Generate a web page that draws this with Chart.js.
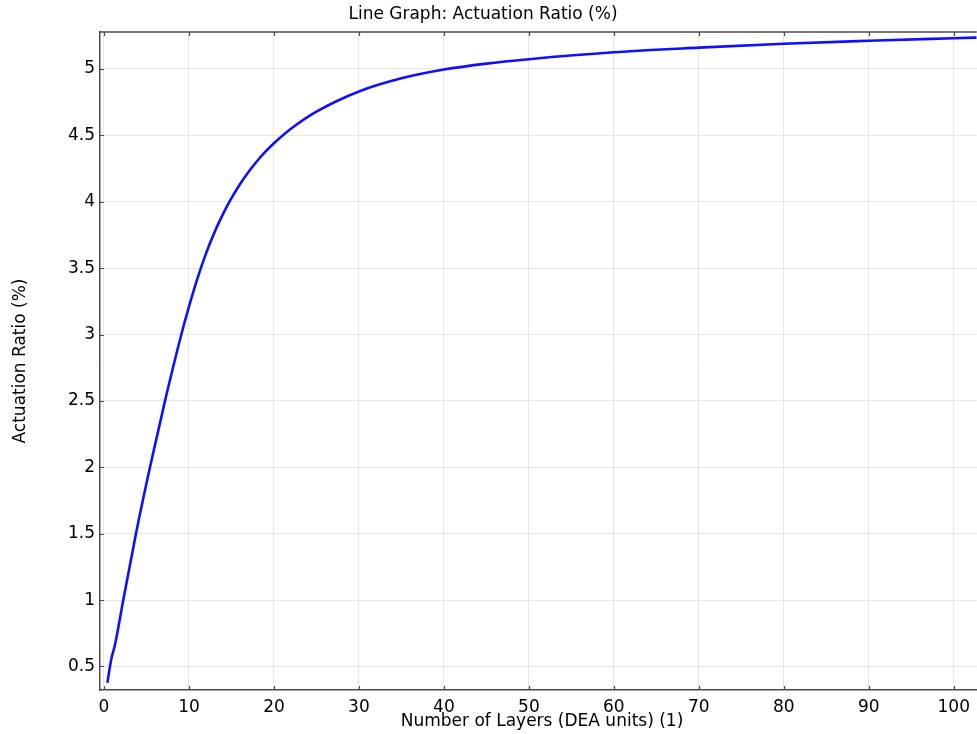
<!DOCTYPE html>
<html>
<head>
<meta charset="utf-8">
<script src="https://cdn.jsdelivr.net/npm/chart.js@4.4.1/dist/chart.umd.min.js"></script>
<style>
  html, body { margin: 0; padding: 0; background: #ffffff; }
  #wrap { width: 977px; height: 734px; }
</style>
</head>
<body>
<div id="wrap"><canvas id="c" width="977" height="734"></canvas></div>
<script>
// Number of DEA layers and the resulting actuation ratio (%)
const layers = [0.4, 0.85, 1.3, 2.27, 3.76, 5.41, 7.18, 9.1, 10, 11, 12, 13, 14, 15, 16, 17, 18, 19, 20, 22, 25, 30, 35, 40, 45, 50, 60, 70, 80, 90, 100, 102.7];
const actuationRatio = [0.377, 0.553, 0.666, 1.0, 1.5, 2.0, 2.5, 3.0, 3.21, 3.423, 3.609, 3.769, 3.907, 4.027, 4.132, 4.224, 4.305, 4.377, 4.44, 4.549, 4.678, 4.83, 4.929, 4.995, 5.04, 5.073, 5.125, 5.16, 5.19, 5.212, 5.231, 5.236];

// Axis ticks
const xTickValues = [0, 10, 20, 30, 40, 50, 60, 70, 80, 90, 100];
const yTickValues = [0.5, 1, 1.5, 2, 2.5, 3, 3.5, 4, 4.5, 5];

const titleText = 'Line Graph: Actuation Ratio (%)';
const xTitle = 'Number of Layers (DEA units) (1)';
const yTitle = 'Actuation Ratio (%)';

const FONT = "'DejaVu Sans', sans-serif";
const FONT_SIZE = 17;
const AXIS_COLOR = '#4a4a4a';
const GRID_COLOR = '#e6e6e6';

const points = layers.map((x, i) => ({ x: x, y: actuationRatio[i] }));

// Plot title, x-axis title, the framing top edge and inward tick marks
const framePlugin = {
  id: 'frame',
  afterDraw(chart) {
    const ctx = chart.ctx;
    const a = chart.chartArea;
    const xs = chart.scales.x, ys = chart.scales.y;
    ctx.save();
    ctx.fillStyle = '#000';
    ctx.font = FONT_SIZE + 'px ' + FONT;
    ctx.textAlign = 'center';
    ctx.textBaseline = 'middle';
    ctx.fillText(titleText, 483, 15);
    ctx.fillText(xTitle, 542, 722);

    ctx.strokeStyle = AXIS_COLOR;
    ctx.lineWidth = 1.5;
    ctx.beginPath();
    ctx.moveTo(a.left, a.top);
    ctx.lineTo(a.right, a.top);
    ctx.stroke();

    ctx.lineWidth = 1.2;
    ctx.beginPath();
    xTickValues.forEach(v => {
      const px = Math.round(xs.getPixelForValue(v)) + 0.5;
      ctx.moveTo(px, a.bottom);
      ctx.lineTo(px, a.bottom - 4);
      ctx.moveTo(px, a.top);
      ctx.lineTo(px, a.top + 4);
    });
    yTickValues.forEach(v => {
      const py = Math.round(ys.getPixelForValue(v)) + 0.5;
      ctx.moveTo(a.left - 1, py);
      ctx.lineTo(a.left + 4, py);
    });
    ctx.stroke();
    ctx.restore();
  }
};

new Chart(document.getElementById('c'), {
  type: 'line',
  data: {
    datasets: [{
      data: points,
      borderColor: '#0f0fff',
      borderWidth: 2.6,
      pointRadius: 0,
      fill: false,
      cubicInterpolationMode: 'monotone'
    }]
  },
  options: {
    responsive: false,
    animation: false,
    devicePixelRatio: 1,
    layout: { padding: { top: 32, right: 0, bottom: 0, left: 0 } },
    plugins: {
      legend: { display: false },
      title: { display: false },
      tooltip: { enabled: false }
    },
    scales: {
      x: {
        type: 'linear',
        min: -0.47,
        max: 102.7,
        afterBuildTicks: s => { s.ticks = xTickValues.map(v => ({ value: v })); },
        afterFit: s => { s.height = 44; },
        ticks: {
          color: '#000',
          font: { family: FONT, size: FONT_SIZE },
          padding: 7,
          maxRotation: 0,
          autoSkip: false,
          callback: v => String(v)
        },
        grid: { color: GRID_COLOR, lineWidth: 1, drawTicks: false },
        border: { display: true, color: AXIS_COLOR, width: 1.5 },
        title: { display: false }
      },
      y: {
        type: 'linear',
        min: 0.323,
        max: 5.278,
        afterBuildTicks: s => { s.ticks = yTickValues.map(v => ({ value: v })); },
        afterFit: s => { s.width = 100; },
        ticks: {
          color: '#000',
          font: { family: FONT, size: FONT_SIZE },
          padding: 5,
          autoSkip: false,
          callback: v => String(v)
        },
        grid: { color: GRID_COLOR, lineWidth: 1, drawTicks: false },
        border: { display: true, color: AXIS_COLOR, width: 1.5 },
        title: {
          display: true,
          text: yTitle,
          color: '#000',
          font: { family: FONT, size: FONT_SIZE },
          padding: { top: 10, bottom: 0 }
        }
      }
    }
  },
  plugins: [framePlugin]
});
</script>
</body>
</html>
